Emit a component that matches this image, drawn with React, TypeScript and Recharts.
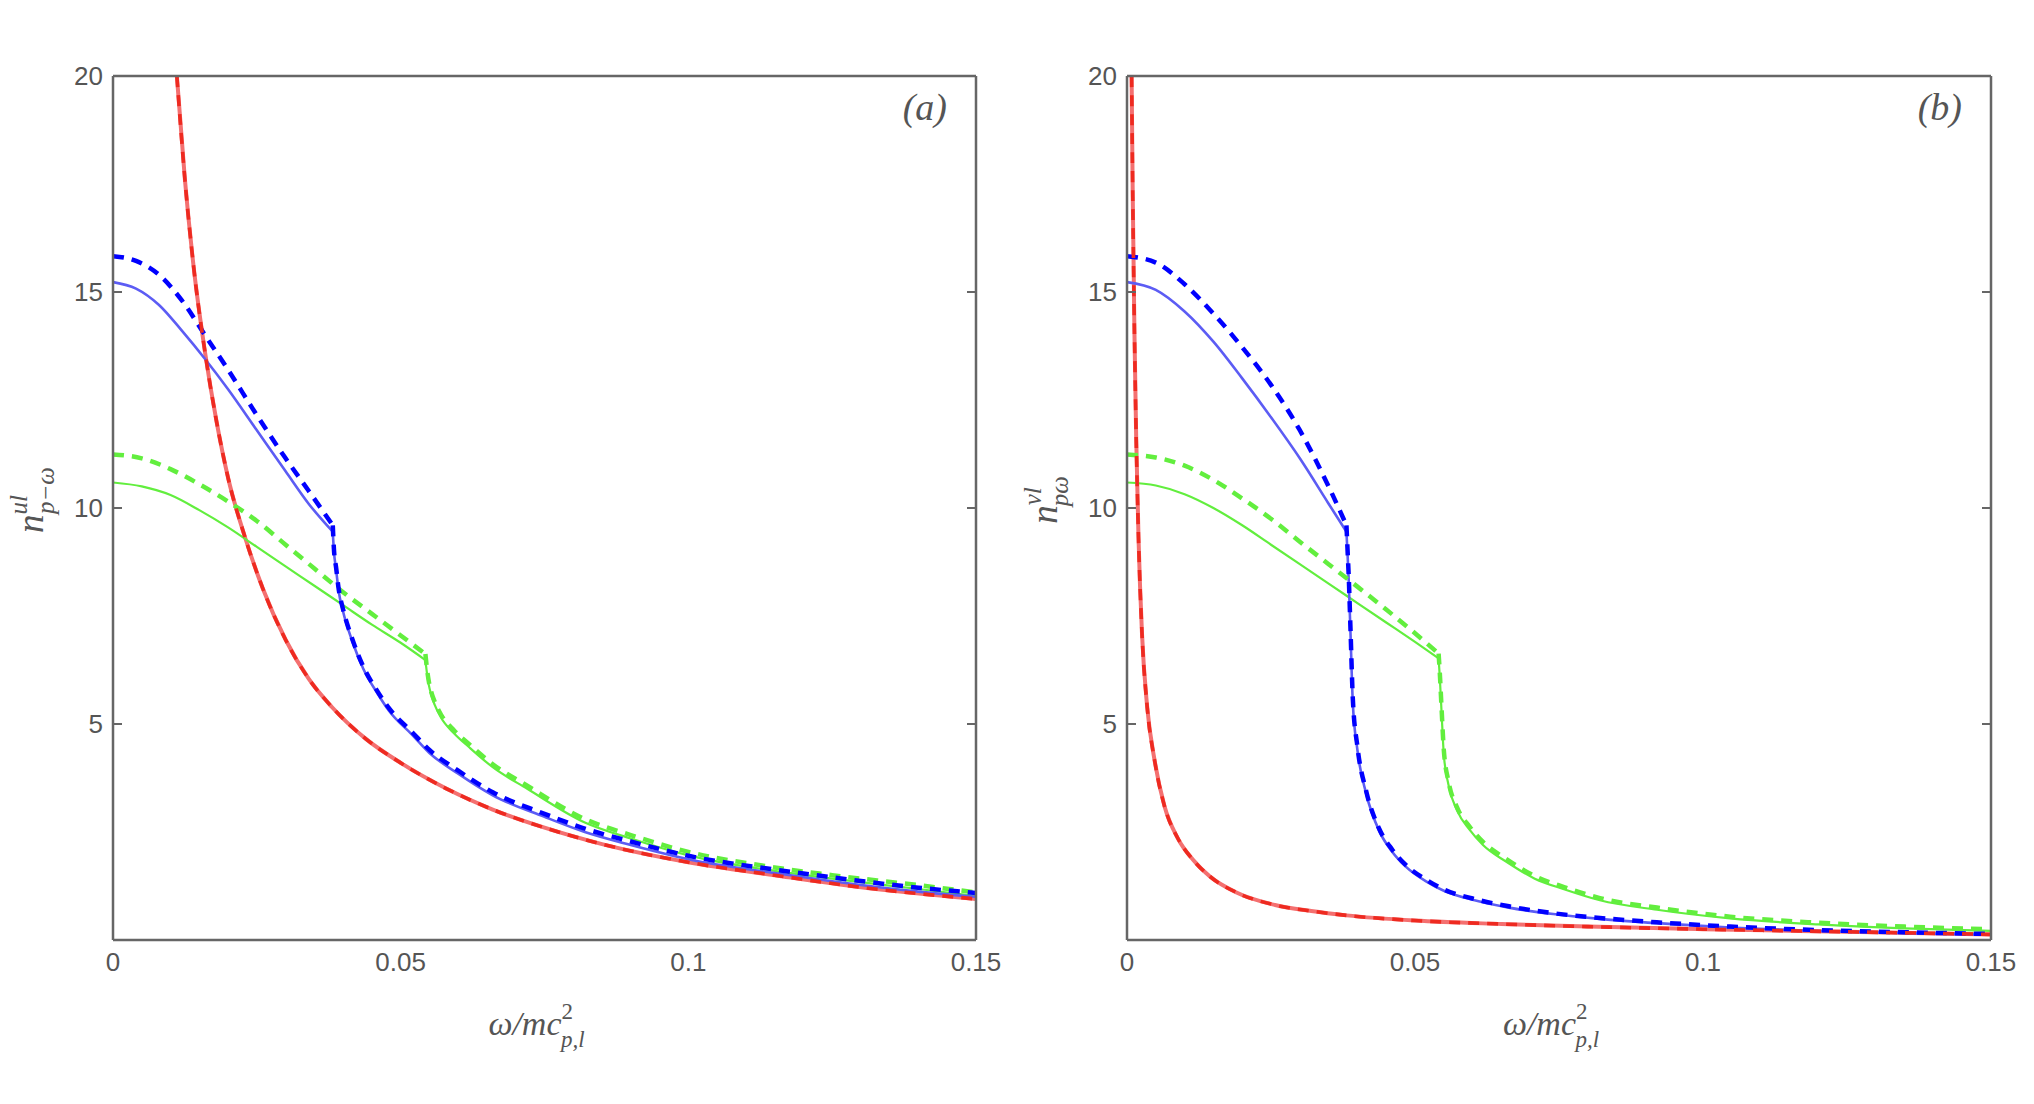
import { LineChart, Line, XAxis, YAxis, Label } from "recharts";

// x: omega / m c^2_{p,l}, y: occupation number n
const xTicks = [0, 0.05, 0.1, 0.15];
const xTicksInner = [0.05, 0.1];
const yTicks = [5, 10, 15, 20];
const yTicksInner = [5, 10, 15];

// ---- panel (a) ----
const redAX = [0.0111, 0.0125, 0.014, 0.016, 0.018, 0.02, 0.023, 0.026, 0.03, 0.034, 0.038, 0.044, 0.05, 0.058, 0.066, 0.075, 0.085, 0.1, 0.115, 0.13, 0.15];
const redAY = [20.0, 17.6, 15.6, 13.6, 12.0, 10.7, 9.3, 8.15, 6.95, 6.05, 5.4, 4.65, 4.1, 3.5, 3.02, 2.6, 2.22, 1.8, 1.5, 1.22, 0.95];

const blueHeadAX = [0, 0.004, 0.008, 0.012, 0.016, 0.02, 0.025, 0.03, 0.034, 0.0382];
const blueSolidHeadAY = [15.23, 15.08, 14.7, 14.1, 13.45, 12.75, 11.8, 10.85, 10.1, 9.45];
const blueDashHeadAY = [15.83, 15.72, 15.4, 14.8, 14.0, 13.2, 12.15, 11.15, 10.4, 9.6];
const blueTailAX = [0.0382, 0.0384, 0.0388, 0.0392, 0.04, 0.0415, 0.0435, 0.046, 0.048, 0.052, 0.055, 0.06, 0.066, 0.075, 0.082, 0.09, 0.1, 0.115, 0.125, 0.14, 0.15];
const blueSolidTailAY = [9.45, 9.0, 8.55, 8.1, 7.6, 6.95, 6.28, 5.7, 5.3, 4.75, 4.33, 3.85, 3.35, 2.85, 2.5, 2.2, 1.87, 1.55, 1.36, 1.12, 1.0];
const blueDashTailAY = [9.6, 9.05, 8.6, 8.15, 7.65, 7.0, 6.33, 5.75, 5.36, 4.81, 4.4, 3.92, 3.42, 2.92, 2.58, 2.28, 1.95, 1.63, 1.45, 1.21, 1.09];

const greenHeadAX = [0, 0.005, 0.01, 0.015, 0.02, 0.025, 0.03, 0.035, 0.04, 0.045, 0.05, 0.0543];
const greenSolidHeadAY = [10.59, 10.5, 10.3, 9.95, 9.55, 9.1, 8.65, 8.2, 7.75, 7.3, 6.88, 6.48];
const greenDashHeadAY = [11.24, 11.15, 10.9, 10.55, 10.15, 9.7, 9.15, 8.6, 8.05, 7.55, 7.05, 6.62];
const greenTailAX = [0.0543, 0.0546, 0.0549, 0.0553, 0.0559, 0.057, 0.0593, 0.062, 0.066, 0.072, 0.082, 0.09, 0.1, 0.115, 0.125, 0.14, 0.15];
const greenSolidTailAY = [6.48, 6.15, 5.9, 5.68, 5.45, 5.15, 4.78, 4.45, 4.0, 3.5, 2.72, 2.35, 1.96, 1.6, 1.42, 1.18, 1.02];
const greenDashTailAY = [6.62, 6.25, 5.98, 5.75, 5.52, 5.22, 4.85, 4.52, 4.07, 3.57, 2.8, 2.43, 2.04, 1.68, 1.5, 1.27, 1.1];

// ---- panel (b) ----
const redBX = [0.0008, 0.001, 0.0013, 0.0016, 0.002, 0.0026, 0.0035, 0.0048, 0.0065, 0.0088, 0.0115, 0.0144, 0.019, 0.0257, 0.032, 0.0381, 0.05, 0.065, 0.08, 0.1, 0.125, 0.15];
const redBY = [20.0, 17.2, 14.0, 11.6, 9.3, 7.1, 5.4, 4.15, 3.1, 2.36, 1.85, 1.47, 1.1, 0.81, 0.67, 0.57, 0.45, 0.37, 0.31, 0.25, 0.19, 0.13];

const blueHeadBX = [0, 0.005, 0.01, 0.015, 0.02, 0.025, 0.03, 0.035, 0.0381];
const blueSolidHeadBY = [15.23, 15.05, 14.55, 13.85, 13.0, 12.1, 11.15, 10.1, 9.45];
const blueDashHeadBY = [15.83, 15.68, 15.18, 14.5, 13.72, 12.85, 11.8, 10.5, 9.6];
const blueTailBX = [0.0381, 0.0383, 0.0385, 0.0388, 0.0392, 0.04, 0.0415, 0.0438, 0.046, 0.0483, 0.052, 0.055, 0.06, 0.0663, 0.074, 0.0821, 0.092, 0.1047, 0.12, 0.135, 0.15];
const blueSolidTailBY = [9.45, 8.9, 8.3, 7.1, 5.5, 4.4, 3.4, 2.52, 2.05, 1.71, 1.35, 1.14, 0.93, 0.75, 0.6, 0.49, 0.39, 0.29, 0.21, 0.16, 0.12];
const blueDashTailBY = [9.6, 9.0, 8.4, 7.2, 5.6, 4.48, 3.46, 2.57, 2.1, 1.75, 1.39, 1.17, 0.96, 0.78, 0.62, 0.51, 0.41, 0.31, 0.23, 0.18, 0.14];

const greenHeadBX = [0, 0.005, 0.01, 0.015, 0.02, 0.025, 0.03, 0.035, 0.04, 0.045, 0.05, 0.0541];
const greenSolidHeadBY = [10.59, 10.52, 10.32, 10.0, 9.6, 9.15, 8.7, 8.25, 7.8, 7.35, 6.9, 6.52];
const greenDashHeadBY = [11.24, 11.17, 10.98, 10.65, 10.22, 9.75, 9.22, 8.7, 8.18, 7.65, 7.1, 6.63];
const greenTailBX = [0.0541, 0.0543, 0.0546, 0.055, 0.0558, 0.0573, 0.0595, 0.0618, 0.066, 0.0708, 0.076, 0.0821, 0.092, 0.1047, 0.12, 0.135, 0.15];
const greenSolidTailBY = [6.52, 6.1, 5.3, 4.3, 3.6, 3.0, 2.55, 2.2, 1.8, 1.42, 1.17, 0.92, 0.7, 0.5, 0.36, 0.27, 0.21];
const greenDashTailBY = [6.63, 6.2, 5.4, 4.4, 3.68, 3.07, 2.62, 2.27, 1.86, 1.48, 1.22, 0.97, 0.75, 0.54, 0.4, 0.31, 0.25];

type Pt = { w: number; n: number };
const zip = (xs: number[], ys: number[]): Pt[] => xs.map((w, i) => ({ w, n: ys[i] }));

const AXIS = "#666666";
const TEXT = "#555555";
const SANS = "'Liberation Sans', Arial, sans-serif";
const SERIF = "'Liberation Serif', 'Times New Roman', serif";

type Series = { data: Pt[]; stroke: string; width: number; dash?: string };

function xTitle({ viewBox }: any) {
  const cx = viewBox.x + viewBox.width / 2 - 8;
  const y = viewBox.y + 95;
  return (
    <text x={cx} y={y} textAnchor="middle" fill={TEXT} fontFamily={SERIF} fontStyle="italic" fontSize={34}>
      ω/mc
      <tspan dy={-16} fontSize={23} fontStyle="normal">2</tspan>
      <tspan dx={-12} dy={28} fontSize={23}>p,l</tspan>
    </text>
  );
}

function makeYTitle(sup: string, sub: string, supW: number) {
  return ({ viewBox }: any) => {
    const x = viewBox.x + viewBox.width - 70;
    const y = viewBox.y + viewBox.height / 2 - 8;
    return (
      <text
        x={x}
        y={y}
        transform={`rotate(-90, ${x}, ${y})`}
        textAnchor="middle"
        fill={TEXT}
        fontFamily={SERIF}
        fontStyle="italic"
        fontSize={37}
      >
        n
        <tspan dy={-16} fontSize={25}>{sup}</tspan>
        <tspan dx={-supW} dy={27} fontSize={25}>{sub}</tspan>
      </text>
    );
  };
}

function makeTag(tag: string) {
  return ({ viewBox }: any) => (
    <text
      x={viewBox.x + viewBox.width - 29}
      y={viewBox.y + 44}
      textAnchor="end"
      fill={TEXT}
      fontFamily={SERIF}
      fontStyle="italic"
      fontSize={38}
    >
      {tag}
    </text>
  );
}

const fmtX = (v: number) => String(v);
const blank = () => "";
const frame = { stroke: AXIS, strokeWidth: 2.5 };
const inTick = { stroke: AXIS, strokeWidth: 2 };

function Panel({
  series,
  left,
  right,
  yTitle,
  tag,
}: {
  series: Series[];
  left: number;
  right: number;
  yTitle: (p: any) => any;
  tag: string;
}) {
  const tickFont = { fill: TEXT, fontSize: 26, fontFamily: SANS };
  return (
    <LineChart width={1017} height={1104} margin={{ top: 76, right, bottom: 104, left }}>
      {/* labelled bottom axis */}
      <XAxis
        xAxisId="b"
        type="number"
        dataKey="w"
        domain={[0, 0.15]}
        ticks={xTicks}
        tickFormatter={fmtX}
        allowDataOverflow
        height={60}
        axisLine={frame}
        tickLine={false}
        tickSize={0}
        tickMargin={13}
        tick={tickFont}
      >
        <Label content={xTitle} />
      </XAxis>
      {/* inward tick marks, bottom */}
      <XAxis
        xAxisId="bm"
        type="number"
        domain={[0, 0.15]}
        ticks={xTicksInner}
        tickFormatter={blank}
        allowDataOverflow
        mirror
        height={20}
        axisLine={false}
        tickLine={inTick}
        tickSize={9}
      />
      {/* top frame edge with inward ticks */}
      <XAxis
        xAxisId="t"
        orientation="top"
        type="number"
        domain={[0, 0.15]}
        ticks={xTicksInner}
        tickFormatter={blank}
        allowDataOverflow
        mirror
        height={20}
        axisLine={frame}
        tickLine={inTick}
        tickSize={9}
      >
        <Label content={makeTag(tag)} />
      </XAxis>
      {/* labelled left axis */}
      <YAxis
        yAxisId="l"
        type="number"
        domain={[0, 20]}
        ticks={yTicks}
        allowDataOverflow
        width={63}
        axisLine={frame}
        tickLine={false}
        tickSize={0}
        tickMargin={10}
        tick={tickFont}
      >
        <Label content={yTitle} />
      </YAxis>
      {/* inward tick marks, left */}
      <YAxis
        yAxisId="lm"
        type="number"
        domain={[0, 20]}
        ticks={yTicksInner}
        tickFormatter={blank}
        allowDataOverflow
        mirror
        width={20}
        axisLine={false}
        tickLine={inTick}
        tickSize={9}
      />
      {/* right frame edge with inward ticks */}
      <YAxis
        yAxisId="r"
        orientation="right"
        type="number"
        domain={[0, 20]}
        ticks={yTicksInner}
        tickFormatter={blank}
        allowDataOverflow
        mirror
        width={20}
        axisLine={frame}
        tickLine={inTick}
        tickSize={9}
      />
      {series.map((s, i) => (
        <Line
          key={i}
          xAxisId="b"
          yAxisId="l"
          data={s.data}
          dataKey="n"
          type="monotone"
          stroke={s.stroke}
          strokeWidth={s.width}
          strokeDasharray={s.dash}
          dot={false}
          activeDot={false}
          isAnimationActive={false}
        />
      ))}
    </LineChart>
  );
}

const RED_SOLID = "#f47070";
const RED_DASH = "#ee2a20";
const BLUE_SOLID = "#5c5cf4";
const BLUE_DASH = "#0000ff";
const GREEN = "#62ee3e";
const DASH = "11 8";

function buildSeries(
  red: Pt[],
  blueSolid: Pt[][],
  blueDash: Pt[][],
  greenSolid: Pt[][],
  greenDash: Pt[][]
): Series[] {
  return [
    { data: red, stroke: RED_SOLID, width: 4 },
    ...greenSolid.map((d) => ({ data: d, stroke: GREEN, width: 2.2 })),
    ...blueSolid.map((d) => ({ data: d, stroke: BLUE_SOLID, width: 2.6 })),
    ...greenDash.map((d) => ({ data: d, stroke: GREEN, width: 4.5, dash: DASH })),
    ...blueDash.map((d) => ({ data: d, stroke: BLUE_DASH, width: 4.5, dash: DASH })),
    { data: red, stroke: RED_DASH, width: 3.6, dash: DASH },
  ];
}

const seriesA = buildSeries(
  zip(redAX, redAY),
  [zip(blueHeadAX, blueSolidHeadAY), zip(blueTailAX, blueSolidTailAY)],
  [zip(blueHeadAX, blueDashHeadAY), zip(blueTailAX, blueDashTailAY)],
  [zip(greenHeadAX, greenSolidHeadAY), zip(greenTailAX, greenSolidTailAY)],
  [zip(greenHeadAX, greenDashHeadAY), zip(greenTailAX, greenDashTailAY)]
);

const seriesB = buildSeries(
  zip(redBX, redBY),
  [zip(blueHeadBX, blueSolidHeadBY), zip(blueTailBX, blueSolidTailBY)],
  [zip(blueHeadBX, blueDashHeadBY), zip(blueTailBX, blueDashTailBY)],
  [zip(greenHeadBX, greenSolidHeadBY), zip(greenTailBX, greenSolidTailBY)],
  [zip(greenHeadBX, greenDashHeadBY), zip(greenTailBX, greenDashTailBY)]
);

export default function App() {
  return (
    <div style={{ position: "absolute", left: 0, top: 0, width: 2034, height: 1104, background: "#fff" }}>
      <div style={{ position: "absolute", left: 0, top: 0 }}>
        <Panel series={seriesA} left={50} right={41} yTitle={makeYTitle("ul", "p−ω", 19)} tag="(a)" />
      </div>
      <div style={{ position: "absolute", left: 1017, top: 0 }}>
        <Panel series={seriesB} left={47} right={43} yTitle={makeYTitle("vl", "pω", 19)} tag="(b)" />
      </div>
    </div>
  );
}
